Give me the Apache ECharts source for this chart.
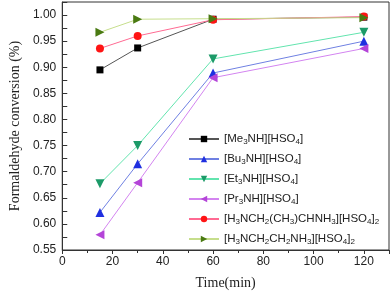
<!DOCTYPE html>
<html><head><meta charset="utf-8">
<script src="https://cdn.jsdelivr.net/npm/echarts@6/dist/echarts.min.js"></script>
<style>html,body{margin:0;padding:0;background:#fff}#c{width:392px;height:295px}</style>
</head><body><div id="c"></div>
<script>
const times = [15, 30, 60, 120];
const seriesNames = ['[Me3NH][HSO4]', '[Bu3NH][HSO4]', '[Et3NH][HSO4]', '[Pr3NH][HSO4]', '[H3NCH2(CH3)CHNH3][HSO4]2', '[H3NCH2CH2NH3][HSO4]2'];
const me3nh = [0.895, 0.937, 0.992, 0.996];
const bu3nh = [0.622, 0.715, 0.889, 0.950];
const et3nh = [0.677, 0.750, 0.916, 0.967];
const pr3nh = [0.579, 0.679, 0.880, 0.936];
const h3pn = [0.936, 0.960, 0.991, 0.997];
const h3en = [0.967, 0.992, 0.993, 0.995];
const legendRich = ['[Me{s|3}NH][HSO{s|4}]', '[Bu{s|3}NH][HSO{s|4}]', '[Et{s|3}NH][HSO{s|4}]', '[Pr{s|3}NH][HSO{s|4}]', '[H{s|3}NCH{s|2}(CH{s|3})CHNH{s|3}][HSO{s|4}]{s|2}', '[H{s|3}NCH{s|2}CH{s|2}NH{s|3}][HSO{s|4}]{s|2}'];
const values = [me3nh, bu3nh, et3nh, pr3nh, h3pn, h3en];
const markerColors = ['#000000', '#1f2fe0', '#1c9a68', '#b444d8', '#ff1414', '#4a7a12'];
const lineColors = ['#555555', '#6f80e2', '#62e4ae', '#d384f0', '#ff6a92', '#c6de8c'];
const symbols = ['rect', 'triangle', 'triangle', 'triangle', 'circle', 'triangle'];
const rotates = [0, 0, 180, 90, 0, -90];
const sizes = [7, 9, 9, 9, 8, 9];
const SANS = 'Arial, "Liberation Sans", sans-serif';
const SERIF = '"Times New Roman", "Liberation Serif", serif';

const chart = echarts.init(document.getElementById('c'), null, {renderer: 'canvas'});
const series = seriesNames.map((n, i) => ({
  name: n, type: 'line',
  data: times.map((t, j) => [t, values[i][j]]),
  symbol: symbols[i], symbolRotate: rotates[i], symbolSize: sizes[i],
  itemStyle: {color: markerColors[i]},
  lineStyle: {color: lineColors[i], width: 1},
  emphasis: {disabled: true}
}));
chart.setOption({
  animation: false,
  grid: {left: 45, right: 3, top: 2, bottom: 41, show: true, borderColor: '#333', borderWidth: 1},
  legend: {
    orient: 'vertical', left: 183, top: 127, itemGap: 6, itemWidth: 30, itemHeight: 8,
    data: seriesNames,
    formatter: function (name) { return legendRich[seriesNames.indexOf(name)]; },
    textStyle: {fontFamily: SANS, fontSize: 11.5, color: '#222', lineHeight: 14,
      rich: {s: {fontFamily: SANS, fontSize: 8, lineHeight: 14, verticalAlign: 'bottom', padding: [5, 0, 0, 0], color: '#222'}}}
  },
  xAxis: {
    type: 'value', min: 0, max: 130, interval: 20,
    name: 'Time(min)', nameLocation: 'middle', nameGap: 26,
    nameTextStyle: {fontFamily: SERIF, fontSize: 14, color: '#222'},
    axisLine: {lineStyle: {color: '#333'}},
    axisTick: {show: true, inside: false, length: 4, lineStyle: {color: '#333'}},
    minorTick: {show: true, splitNumber: 2, length: 3, lineStyle: {color: '#333'}},
    splitLine: {show: false},
    axisLabel: {fontFamily: SANS, fontSize: 12, color: '#222', margin: 6,
      formatter: v => (v > 120 ? '' : String(v))}
  },
  yAxis: {
    type: 'value', min: 0.55, max: 1.025, interval: 0.05,
    name: 'Formaldehyde conversion (%)', nameLocation: 'middle', nameGap: 33,
    nameTextStyle: {fontFamily: SERIF, fontSize: 14, color: '#222'},
    axisLine: {lineStyle: {color: '#333'}},
    axisTick: {show: true, inside: true, length: 5, lineStyle: {color: '#333'}},
    minorTick: {show: true, splitNumber: 2, length: 5, lineStyle: {color: '#333'}},
    splitLine: {show: false},
    axisLabel: {fontFamily: SANS, fontSize: 12, color: '#222', margin: 6,
      formatter: v => (v > 1.001 ? '' : v.toFixed(2))}
  },
  series: series
});
</script></body></html>
